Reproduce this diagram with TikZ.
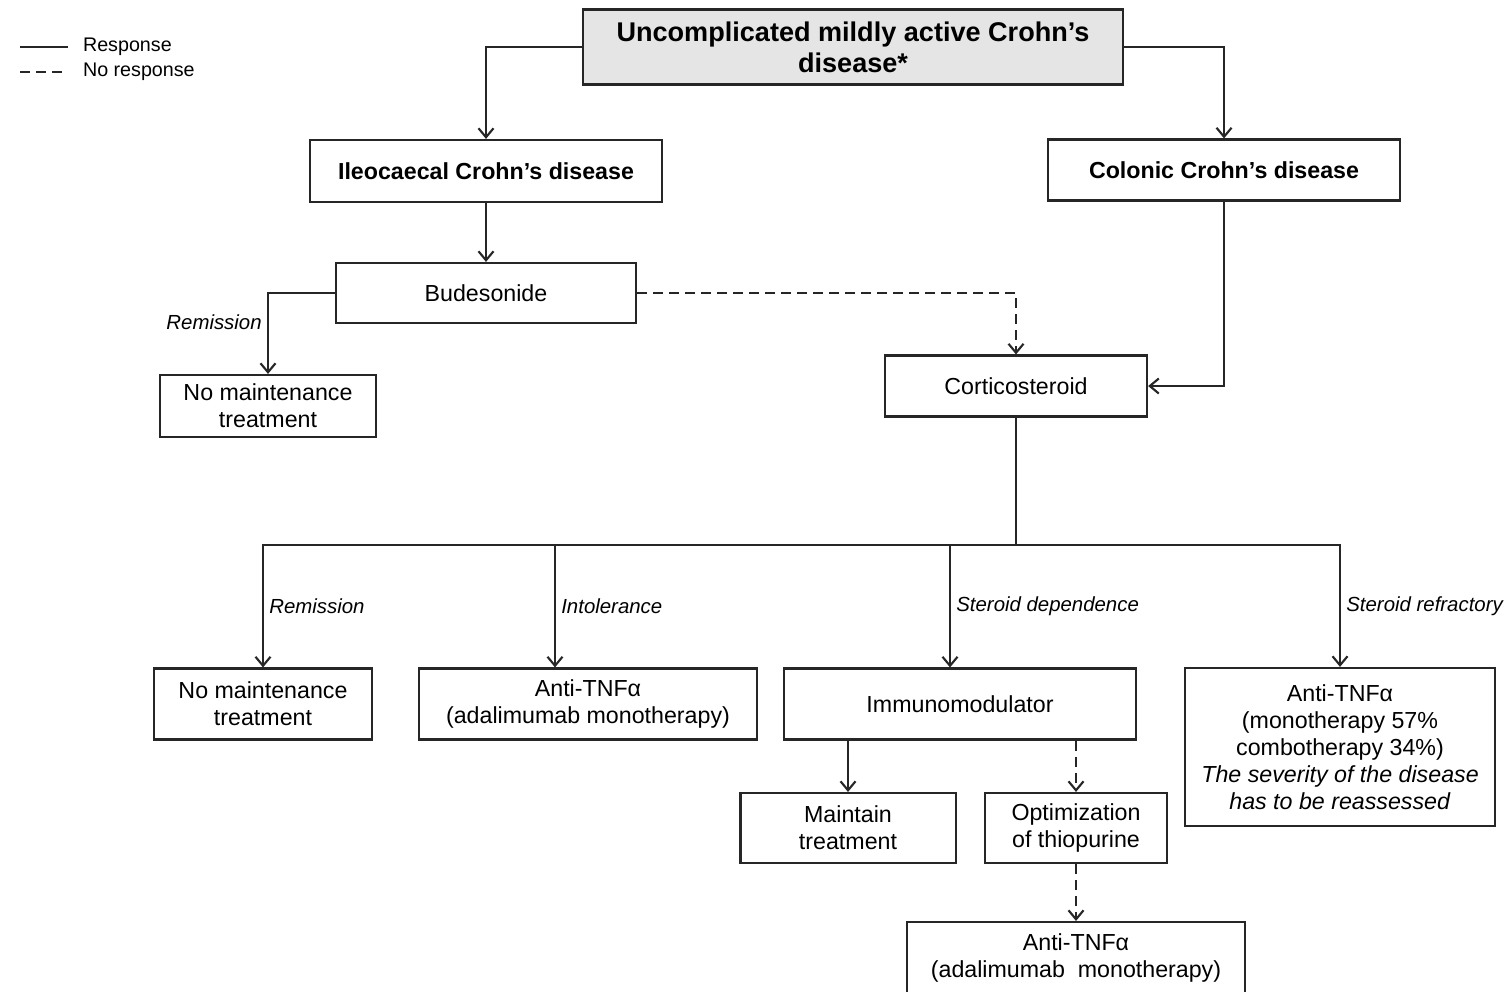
\documentclass[tikz,border=0pt]{standalone}
\usepackage{fontspec}
\setmainfont{Liberation Sans}
\usetikzlibrary{arrows.meta}

\begin{document}
\begin{tikzpicture}[
    x=0.01cm, y=-0.01cm,
    box/.style={rectangle, draw=black!85, line width=0.6pt, inner sep=0pt, align=center, font=\fontsize{6.6}{7.7}\selectfont},
    headbox/.style={box, font=\fontsize{6.6}{7.7}\selectfont\bfseries},
    titlebox/.style={box, fill=black!10, font=\fontsize{7.7}{8.8}\selectfont\bfseries},
    cond/.style={font=\fontsize{5.8}{7}\selectfont\itshape, inner sep=1.5pt},
    legendtxt/.style={font=\fontsize{5.6}{7}\selectfont, anchor=west, inner sep=0pt},
    link/.style={line width=0.6pt, draw=black!85},
    arr/.style={link, -{Straight Barb[length=0.9mm,width=1.5mm]}},
    noresp/.style={arr, dash pattern=on 1mm off 0.6mm}
    ]
    \useasboundingbox (0,0) rectangle (1510,991);

    % legend
    \coordinate (lgA) at (20,47);
    \coordinate (lgB) at (20,72);
    \draw[link] (lgA) -- ++(48,0) node[legendtxt, xshift=0.14cm] (lgresp) {Response};
    \draw[link, dash pattern=on 1mm off 0.6mm] (lgB) -- ++(48,0) node[legendtxt, xshift=0.14cm] (lgnoresp) {No response};

    % boxes
    \node[titlebox, minimum width=5.40cm, minimum height=0.75cm] (start) at (853,47) {Uncomplicated mildly active Crohn's\\disease*};
    \node[headbox, minimum width=3.51cm, minimum height=0.62cm] (ileo) at (486,171) {Ileocaecal Crohn's disease};
    \node[headbox, minimum width=3.52cm, minimum height=0.61cm] (colon) at (1224,170) {Colonic Crohn's disease};
    \node[box, minimum width=3.00cm, minimum height=0.60cm] (bud) at (486,293) {Budesonide};
    \node[box, minimum width=2.16cm, minimum height=0.62cm] (nomaintA) at (268,406) {No maintenance\\treatment};
    \node[box, minimum width=2.62cm, minimum height=0.61cm] (cortico) at (1016,386) {Corticosteroid};
    \node[box, minimum width=2.17cm, minimum height=0.71cm] (nomaintB) at (263,704) {No maintenance\\treatment};
    \node[box, minimum width=3.37cm, minimum height=0.71cm] (tnfA) at (588,704) {Anti-TNFα\\(adalimumab monotherapy)};
    \node[box, minimum width=3.52cm, minimum height=0.71cm] (immuno) at (960,704) {Immunomodulator};
    \node[box, minimum width=3.09cm, minimum height=1.58cm] (tnfB) at (1340,747) {Anti-TNFα\\(monotherapy 57\%\\combotherapy 34\%)\\\textit{The severity of the disease}\\\textit{has to be reassessed}};
    \node[box, minimum width=2.15cm, minimum height=0.70cm] (maintain) at (848,828) {Maintain\\treatment};
    \node[box, minimum width=1.82cm, minimum height=0.70cm] (optim) at (1076,828) {Optimization\\of thiopurine};
    \node[box, minimum width=3.38cm, minimum height=0.72cm] (tnfC) at (1076,958) {Anti-TNFα\\(adalimumab\ \ monotherapy)};

    % connectors
    \draw[arr] (start.west) -| (ileo.north);
    \draw[arr] (start.east) -| (colon.north);
    \draw[arr] (ileo.south) -- (bud.north);
    \draw[arr] (bud.west) -| node[cond, pos=0.68, left] {Remission} (nomaintA.north);
    \draw[noresp] (bud.east) -| (cortico.north);
    \draw[arr] (colon.south) |- (cortico.east);

    \coordinate (split) at (1016,545);
    \draw[link] (cortico.south) -- (split);
    \draw[arr] (split) -| node[cond, pos=0.75, right] {Remission} (nomaintB.north);
    \draw[arr] (split) -| node[cond, pos=0.75, right] {Intolerance} ([xshift=-0.33cm]tnfA.north);
    \draw[arr] (split) -| node[cond, pos=0.75, right] {Steroid dependence} ([xshift=-0.10cm]immuno.north);
    \draw[arr] (split) -| node[cond, pos=0.75, right] {Steroid refractory} (tnfB.north);

    \draw[arr] (maintain.north |- immuno.south) -- (maintain.north);
    \draw[noresp] (optim.north |- immuno.south) -- (optim.north);
    \draw[noresp] (optim.south) -- (tnfC.north);

\end{tikzpicture}
\end{document}
